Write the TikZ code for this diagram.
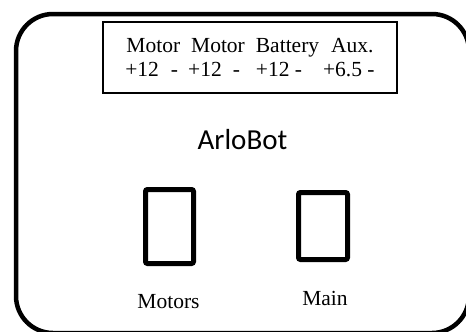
\documentclass[tikz,border=0pt]{standalone}
\usepackage{fontspec}
\setmainfont{Liberation Serif}
\newfontfamily\titlefont{Carlito}
\usepackage{tikz}
\usetikzlibrary{positioning}

\begin{document}
\begin{tikzpicture}[
      x=1pt, y=-1pt,
      font=\fontsize{21.5}{24}\selectfont,
      panel/.style={draw, line width=4.5pt, rounded corners=37pt},
      header/.style={draw, line width=1.2pt, minimum width=294pt,
                     minimum height=71pt, align=center, inner sep=0pt},
      switch/.style={draw, line width=5pt, rounded corners=2pt,
                     inner sep=0pt},
      label/.style={anchor=base, inner sep=0pt}]

    \clip (0,0) rectangle (466,332);

    % outer board, running off the right and lower edges
    \draw[panel] (16,14) rectangle (469,333);

    \node[header] (header) at (250,57.5)
      {Motor\hspace{11pt}Motor\hspace{11pt}Battery\hspace{12pt}Aux.\\
       +12\hspace{12pt}-\hspace{10pt}+12\hspace{11pt}-\hspace{16pt}+12 -\hspace{21pt}+6.5 -};

    \node[label, font=\titlefont\fontsize{29}{32}\selectfont] (title)
      at (242.5,149) {ArloBot};

    \node[switch, minimum width=48pt, minimum height=74pt] (motorsw)
      at (169.5,226.5) {};
    \node[switch, minimum width=49pt, minimum height=67pt] (mainsw)
      at (323,226) {};

    \node[label] (motorslbl) at (168.5,308) {Motors};
    \node[label] (mainlbl) at (325,305) {Main};
  \end{tikzpicture}
\end{document}
